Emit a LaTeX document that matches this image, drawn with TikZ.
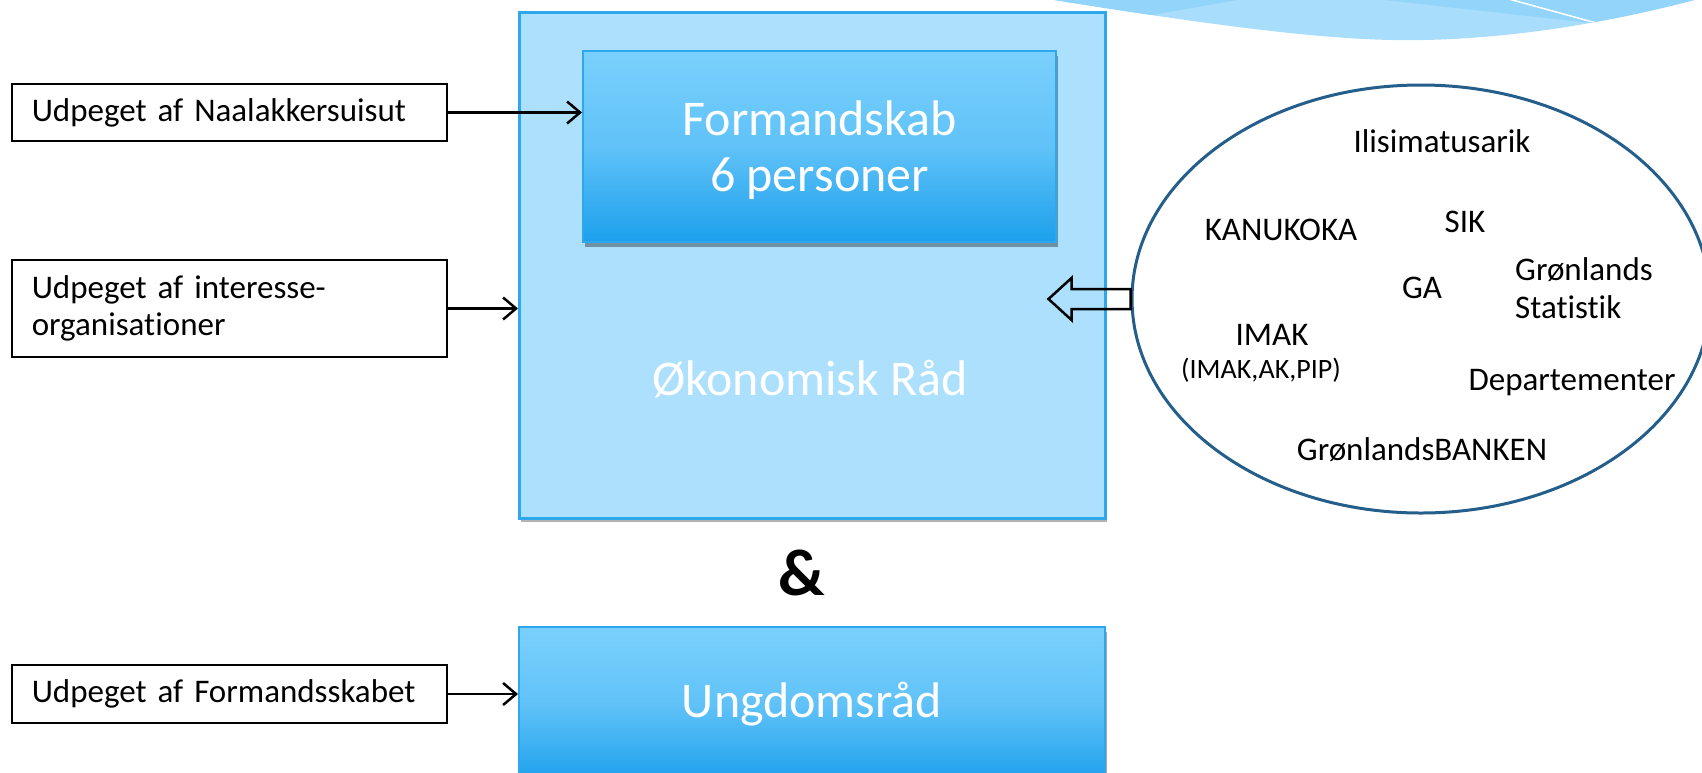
\documentclass[tikz,border=0pt]{standalone}
\usepackage{fontspec}
\setmainfont[Ligatures={NoCommon}]{Carlito}
\usetikzlibrary{arrows.meta,shapes.geometric,shadows,calc}
\definecolor{outerfill}{RGB}{172,224,252}
\definecolor{boxline}{RGB}{46,168,236}
\definecolor{gradtop}{RGB}{122,208,252}
\definecolor{gradmid}{RGB}{96,194,248}
\definecolor{gradbot}{RGB}{28,160,236}
\definecolor{ellline}{RGB}{36,94,138}
\definecolor{wavelight}{RGB}{168,221,251}
\definecolor{wavedark}{RGB}{146,212,250}
\begin{document}
\begin{tikzpicture}[x=1pt,y=-1pt,
  srcbox/.style={draw=black, line width=1.5pt, anchor=west, minimum width=435pt,
    inner xsep=0pt, inner ysep=0pt, text width=395pt, align=left,
    font=\fontsize{33}{37}\selectfont},
  conn/.style={line width=2.5pt, -{Straight Barb[length=13pt,width=22pt]}},
  bluebox/.style={draw=boxline, line width=2pt, top color=gradtop, bottom color=gradbot,
    middle color=gradmid, text=white, align=center, inner sep=0pt,
    font=\fontsize{50}{56}\selectfont,
    drop shadow={shadow xshift=2pt, shadow yshift=-5pt, opacity=0.35, fill=black}},
  etxt/.style={anchor=base, inner sep=0pt, font=\fontsize{33}{37}\selectfont},
  bigtxt/.style={anchor=base, inner sep=0pt, text=white, font=\fontsize{50}{56}\selectfont}
]
\clip (0,0) rectangle (1702,772);
\useasboundingbox (0,0) rectangle (1702,772);

% decorative wave, top right
\begin{scope}
  \path[clip] (1054,-6) -- (1054,0) .. controls (1230,28) and (1340,42) .. (1425,40)
     .. controls (1510,38) and (1600,25) .. (1702,-2) -- (1710,-6) -- cycle;
  \fill[wavelight] (1040,-10) rectangle (1710,60);
  \fill[wavedark] (1040,-10) -- (1237,-10) -- (1237,0) -- (1152,15) -- (1040,15) -- cycle;
  \fill[wavedark] (1385,-10) -- (1385,0) -- (1600,24) -- (1600,60) -- (1710,60) -- (1710,-10) -- cycle;
  \draw[white, line width=1.5pt] (1505,-2) -- (1600,24);
\end{scope}

% Oekonomisk Raad
\node[draw=boxline, line width=2.5pt, fill=outerfill, minimum width=586pt, minimum height=506pt,
  anchor=north west, inner sep=0pt,
  drop shadow={shadow xshift=2pt, shadow yshift=-4pt, opacity=0.3, fill=black}] (oek) at (518,11) {};
\node[bigtxt] (oektxt) at (810,395) {Økonomisk Råd};

\node[bluebox, minimum width=473pt, minimum height=191pt, anchor=north west] (form) at (582,50)
  {\rule{0pt}{42pt}Formandskab\\6 personer};

\node[anchor=base, inner sep=0pt, font=\bfseries\fontsize{66}{70}\selectfont] (amp) at (802,595) {\&};

\node[bluebox, minimum width=586pt, minimum height=155pt, anchor=north west] (ung) at (518,626)
  {Ungdomsråd};

% source boxes
\node[srcbox, minimum height=57pt] (src1) at (11,112.5) {Udpeget af Naalakkersuisut};
\node[srcbox, minimum height=97pt] (src2) at (11,308.5) {Udpeget af interesse-\\organisationer};
\node[srcbox, minimum height=58pt] (src3) at (11,694) {Udpeget af Formandsskabet};

\draw[conn] (src1.east) -- (src1.east -| form.west);
\draw[conn] (src2.east) -- (src2.east -| oek.west);
\draw[conn] (src3.east) -- (src3.east -| ung.west);

% ellipse of contributors
\node[ellipse, draw=ellline, line width=3pt, minimum width=578pt, minimum height=428pt, inner sep=0pt]
  (ell) at (1421,299) {};
\node[etxt] (ilis) at (1442,152) {Ilisimatusarik};
\node[etxt] (kanu) at (1281,240) {KANUKOKA};
\node[etxt] (sik) at (1465,232) {SIK};
\node[etxt] (ga) at (1422,298) {GA};
\node[etxt, anchor=base west] (gs1) at (1515,280) {Grønlands};
\node[etxt, anchor=base west] (gs2) at (1515,318) {Statistik};
\node[etxt] (imak) at (1272,345) {IMAK};
\node[etxt, font=\fontsize{28}{32}\selectfont] (imak2) at (1261,378) {(IMAK,AK,PIP)};
\node[etxt] (dep) at (1572,390) {Departementer};
\node[etxt] (bank) at (1422,460) {GrønlandsBANKEN};

% hollow block arrow from ellipse to the council
\draw[line width=2.5pt, line join=miter] ($(ell.west)+(0,-10)$) -- ++(-59,0) -- ++(0,-11)
  -- ++(-23,21) -- ++(23,21) -- ++(0,-11) -- ($(ell.west)+(0,10)$) -- cycle;
\end{tikzpicture}
\end{document}
